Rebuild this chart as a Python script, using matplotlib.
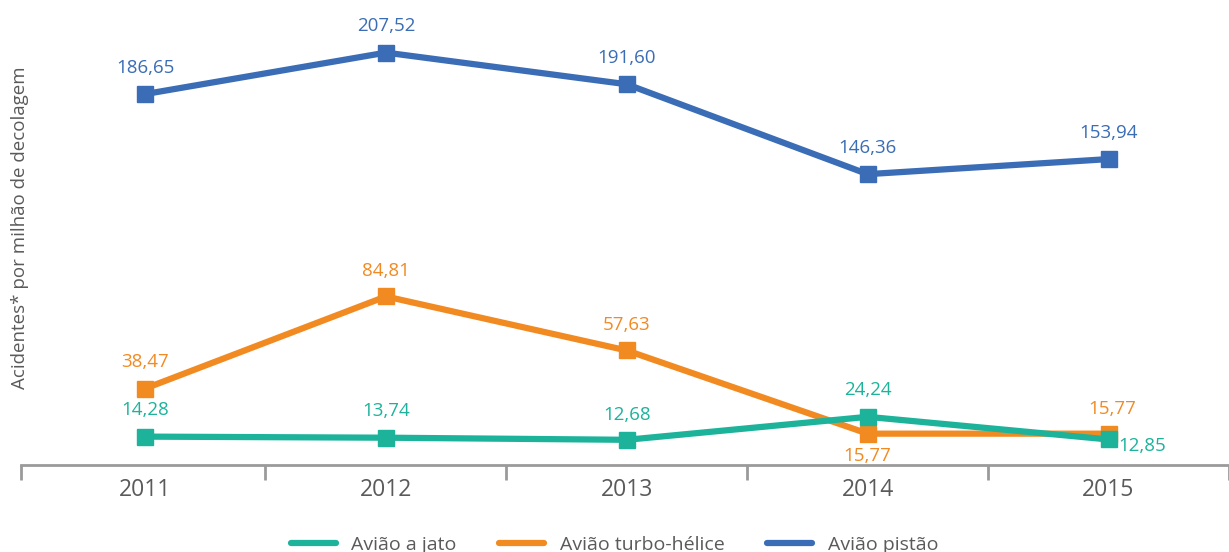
import matplotlib.pyplot as plt

# Dados
anos = ["2011", "2012", "2013", "2014", "2015"]
jato = [14.28, 13.74, 12.68, 24.24, 12.85]
turbo = [38.47, 84.81, 57.63, 15.77, 15.77]
pistao = [186.65, 207.52, 191.60, 146.36, 153.94]

cor_jato = "#1db39b"
cor_turbo = "#f28a22"
cor_pistao = "#3a6db5"
cinza = "#5a5a5a"

plt.rcParams['font.family'] = ['Open Sans', 'DejaVu Sans']

fig = plt.figure(figsize=(12.29, 5.52), dpi=100)
ax = fig.add_axes([21 / 1229, 87 / 552, 1 - 21 / 1229, 1 - 87 / 552])

x = list(range(len(anos)))
series = [
    ("Avião a jato", jato, cor_jato),
    ("Avião turbo-hélice", turbo, cor_turbo),
    ("Avião pistão", pistao, cor_pistao),
]
# jato por cima das outras linhas
for z, (nome, vals, cor) in zip([5, 4, 3], series):
    ax.plot(x, vals, color=cor, lw=4.5, marker="s", markersize=12,
            solid_joinstyle="miter", label=nome, zorder=z)


def fmt(v):
    return f"{v:.2f}".replace(".", ",")


# posição dos rótulos (deslocamento em pontos)
off_pistao = [(0, 19)] * 5
off_turbo = [(0, 19), (0, 18), (0, 18), (0, -16), (3, 18)]
off_jato = [(0, 19), (0, 19), (0, 18), (0, 19), (24, -5)]

for vals, cor, offs in [(pistao, cor_pistao, off_pistao),
                        (turbo, cor_turbo, off_turbo),
                        (jato, cor_jato, off_jato)]:
    for i, v in enumerate(vals):
        ax.annotate(fmt(v), (i, v), xytext=offs[i], textcoords="offset points",
                    ha="center", va="center", color=cor, fontsize=13.5)

ax.set_xlim(-0.515, 4.5)
ax.set_ylim(0, 234)
for s in ["top", "right", "left"]:
    ax.spines[s].set_visible(False)
ax.spines["bottom"].set_color("#9a9a9a")
ax.spines["bottom"].set_linewidth(2)
ax.set_yticks([])

# ticks nas fronteiras das categorias
ax.set_xticks([-0.515] + [i + 0.5 for i in range(len(anos) - 1)] + [4.5])
ax.set_xticklabels([])
ax.set_xticks(x, minor=True)
ax.set_xticklabels(anos, minor=True, fontsize=16.5, color=cinza)
ax.tick_params(axis="x", which="major", direction="out", length=11, width=2, color="#9a9a9a")
ax.tick_params(axis="x", which="minor", length=0, pad=9)

fig.text(20 / 1229, 0.587, "Acidentes* por milhão de decolagem", rotation=90,
         ha="center", va="center", fontsize=13.5, color=cinza)

fig.legend(loc="lower center", bbox_to_anchor=(0.5, -0.035), ncol=3, frameon=False,
           fontsize=14, labelcolor=cinza, handlelength=2.3, columnspacing=2.2,
           handles=[plt.Line2D([], [], color=c, lw=4.5, solid_capstyle="round") for _, _, c in series],
           labels=[n for n, _, _ in series])

fig.savefig("out.png", dpi=100)
